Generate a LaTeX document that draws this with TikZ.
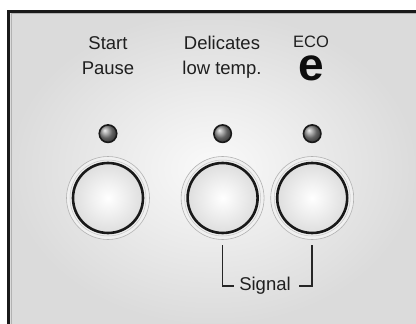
\documentclass[tikz,border=0pt]{standalone}
\usepackage{fontspec}
\setmainfont{Liberation Sans}
\usepackage{xcolor}
\usepackage{tikz}
\usetikzlibrary{positioning,shadings}

\begin{document}
\begin{tikzpicture}[
        x=1pt, y=-1pt,
        button/.style={
            circle, minimum size=83pt, inner sep=0pt,
            draw=black!30, line width=0.6pt, fill=black!6,
            path picture={
                \draw[black!22, line width=0.5pt] (path picture bounding box.center) circle[radius=38pt];
                \shade[inner color=white, outer color=black!13] (path picture bounding box.center) circle[radius=35pt];
                \draw[black!90, line width=2.6pt] (path picture bounding box.center) circle[radius=35pt];
            }
        },
        led/.style ={circle, minimum size=17.5pt, inner sep=0pt, draw=black!90, line width=1.6pt,
            shading=ball, ball color=black!45},
        lab/.style ={font=\fontsize{18.5}{25}\selectfont, align=center, inner sep=0pt, text=black!88},
        bracket/.style ={draw=black!85, line width=1.6pt}
    ]
        % panel background and frame
        \useasboundingbox (0,0) rectangle (416,324);
        \fill[white] (0,0) rectangle (416,324);
        \shade[inner color=black!2, outer color=black!14] (10,13) rectangle (416,324);
        \draw[black!30, line width=1pt] (11,324) |- (416,13);
        \draw[black!90, line width=3pt] (8.5,324) |- (416,11.5);

        % buttons
        \node[button] (BS) at (108,198) {};
        \node[button, right=31pt of BS] (BD) {};
        \node[button, right=6pt of BD]  (BE) {};

        % indicator lamps
        \node[led, above=13pt of BS] (LS) {};
        \node[led, above=13pt of BD] (LD) {};
        \node[led, above=13pt of BE] (LE) {};

        % labels
        \node[lab, anchor=north] (TS) at (108,36) {Start\\Pause};
        \node[lab, anchor=north] (TD) at (222,36) {Delicates\\low temp.};
        \node[lab, anchor=north, font=\fontsize{16.5}{20}\selectfont] (TE) at (311,35.5) {ECO};
        \node[lab, anchor=base, font=\fontsize{46}{46}\bfseries, text=black!95] (EE) at (311,80.5) {e};

        % signal bracket
        \node[lab] (SIG) at (265,286) {Signal};
        \draw[bracket] ([yshift=-5.5pt]BD.south) |- ([xshift=-5pt]SIG.west);
        \draw[bracket] ([yshift=-5.5pt]BE.south) |- ([xshift=8pt]SIG.east);
    \end{tikzpicture}
\end{document}
